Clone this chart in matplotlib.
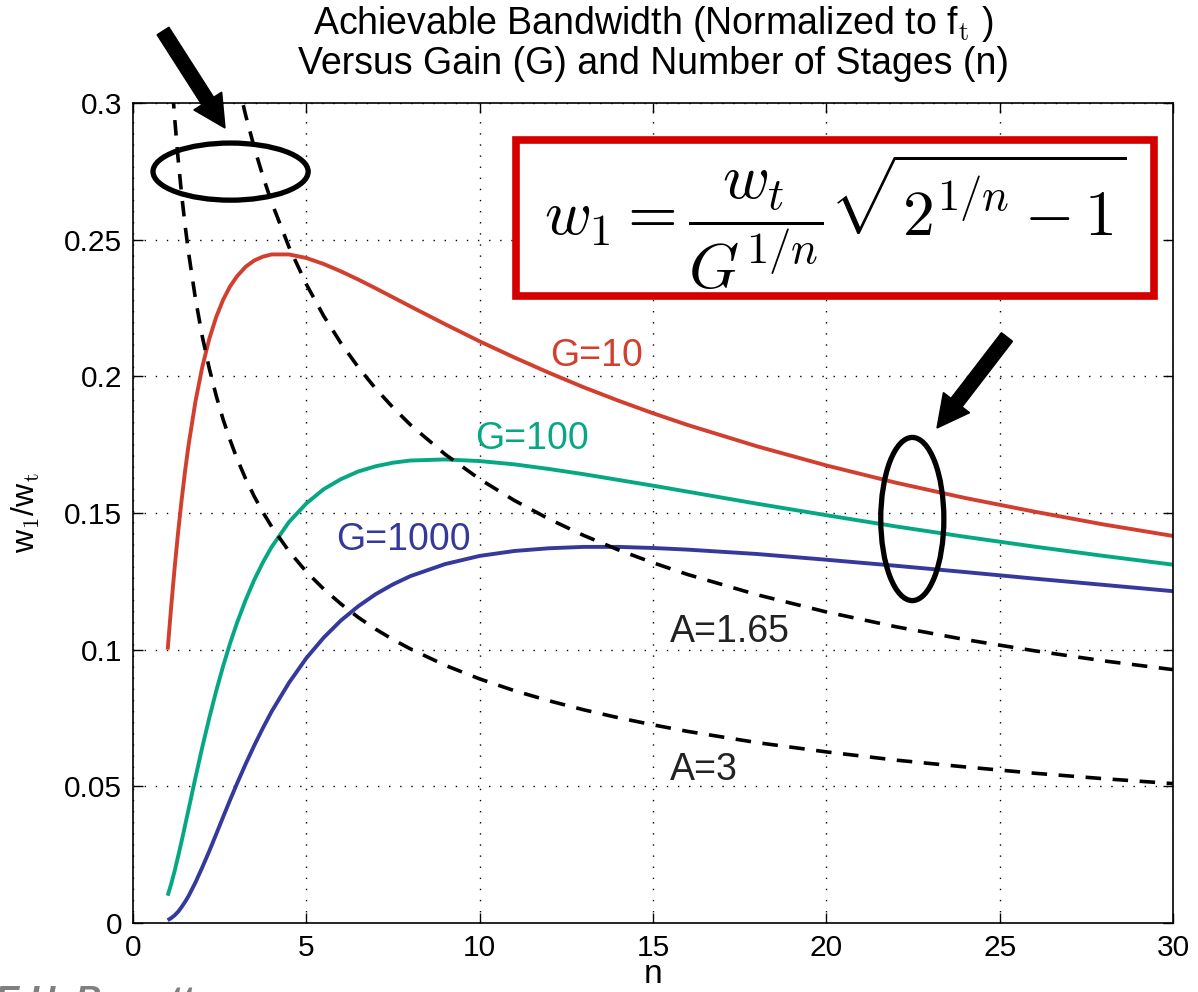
import matplotlib
matplotlib.use("Agg")
import matplotlib.pyplot as plt
from matplotlib.patches import Ellipse, FancyArrow, Rectangle
from matplotlib.transforms import IdentityTransform

plt.rcParams['font.family'] = ['Liberation Sans', 'DejaVu Sans']
plt.rcParams['mathtext.fontset'] = 'cm'

# ---- data ----
n_vals = [1, 1.1, 1.2, 1.3, 1.4, 1.5, 1.6, 1.8, 2, 2.2, 2.4, 2.6, 2.8, 3, 3.25, 3.5,
          3.75, 4, 4.5, 5, 5.5, 6, 6.5, 7, 7.5, 8, 9, 10, 11, 12, 13, 14, 15, 16,
          18, 20, 22, 24, 26, 28, 30]
g10 = [0.1000, 0.1155, 0.1298, 0.1428, 0.1545, 0.1651, 0.1746, 0.1907, 0.2035,
       0.2137, 0.2217, 0.2280, 0.2329, 0.2366, 0.2401, 0.2424, 0.2438, 0.2446,
       0.2446, 0.2433, 0.2411, 0.2384, 0.2354, 0.2322, 0.2289, 0.2256, 0.2191,
       0.2128, 0.2069, 0.2013, 0.1960, 0.1911, 0.1865, 0.1822, 0.1744, 0.1674,
       0.1611, 0.1555, 0.1505, 0.1458, 0.1416]
g100 = [0.0100, 0.0142, 0.0190, 0.0243, 0.0298, 0.0356, 0.0414, 0.0531, 0.0644,
        0.0750, 0.0849, 0.0940, 0.1023, 0.1098, 0.1182, 0.1256, 0.1320, 0.1376,
        0.1467, 0.1535, 0.1587, 0.1624, 0.1652, 0.1671, 0.1684, 0.1692, 0.1696,
        0.1690, 0.1678, 0.1661, 0.1642, 0.1621, 0.1600, 0.1578, 0.1534, 0.1492,
        0.1451, 0.1413, 0.1377, 0.1343, 0.1311]
g1000 = [0.0010, 0.0018, 0.0028, 0.0041, 0.0058, 0.0077, 0.0098, 0.0148, 0.0204,
         0.0263, 0.0325, 0.0388, 0.0450, 0.0510, 0.0582, 0.0650, 0.0714, 0.0774,
         0.0879, 0.0969, 0.1044, 0.1107, 0.1159, 0.1203, 0.1239, 0.1269, 0.1313,
         0.1343, 0.1361, 0.1371, 0.1376, 0.1376, 0.1372, 0.1366, 0.1350, 0.1329,
         0.1307, 0.1284, 0.1260, 0.1237, 0.1214]
a165 = [0.6061, 0.5678, 0.5359, 0.5086, 0.4851, 0.4645, 0.4463, 0.4154, 0.3901,
        0.3688, 0.3507, 0.3350, 0.3212, 0.3090, 0.2955, 0.2836, 0.2731, 0.2636,
        0.2473, 0.2337, 0.2221, 0.2121, 0.2033, 0.1955, 0.1886, 0.1823, 0.1715,
        0.1624, 0.1546, 0.1478, 0.1418, 0.1365, 0.1318, 0.1275, 0.1201, 0.1138,
        0.1084, 0.1037, 0.0996, 0.0959, 0.0927]
a3 = [0.3333, 0.3123, 0.2947, 0.2798, 0.2668, 0.2555, 0.2455, 0.2285, 0.2145,
      0.2029, 0.1929, 0.1842, 0.1767, 0.1699, 0.1625, 0.1560, 0.1502, 0.1450,
      0.1360, 0.1285, 0.1222, 0.1167, 0.1118, 0.1075, 0.1037, 0.1003, 0.0943,
      0.0893, 0.0850, 0.0813, 0.0780, 0.0751, 0.0725, 0.0701, 0.0660, 0.0626,
      0.0596, 0.0571, 0.0548, 0.0528, 0.0510]
xticks = [0, 5, 10, 15, 20, 25, 30]
yticks = [0, 0.05, 0.1, 0.15, 0.2, 0.25, 0.3]
ytick_labels = ['0', '0.05', '0.1', '0.15', '0.2', '0.25', '0.3']

RED = '#d23f2f'
GREEN = '#06a884'
BLUE = '#34399b'

fig = plt.figure(figsize=(11.98, 9.92), dpi=100)
ax = fig.add_axes([133/1198, 69/992, 1040/1198, 820/992])

ax.plot(n_vals, g10, color=RED, lw=2.8, solid_capstyle='butt', solid_joinstyle='round')
ax.plot(n_vals, g100, color=GREEN, lw=2.8, solid_capstyle='butt', solid_joinstyle='round')
ax.plot(n_vals, g1000, color=BLUE, lw=2.8, solid_capstyle='butt', solid_joinstyle='round')
ax.plot(n_vals, a165, color='black', lw=2.6, dashes=(4.3, 3.2))
ax.plot(n_vals, a3, color='black', lw=2.6, dashes=(4.3, 3.2))

ax.set_xlim(0, 30)
ax.set_ylim(0, 0.3)
ax.set_xticks(xticks)
ax.set_yticks(yticks)
ax.set_yticklabels(ytick_labels)
ax.tick_params(direction='in', length=7, width=1, labelsize=21.5, top=True, right=True, pad=8)
ax.grid(True, color='black', linestyle=(0, (1, 7)), linewidth=1.0)
for s in ax.spines.values():
    s.set_linewidth(1.2)

ax.set_xlabel('n', fontsize=24, labelpad=-2)
ax.set_ylabel('w$_\\mathrm{1}$/w$_\\mathrm{t}$', fontsize=23, labelpad=16)
ax.set_title('Achievable Bandwidth (Normalized to f$_\\mathrm{t}$ )\nVersus Gain (G) and Number of Stages (n)',
             fontsize=27, pad=21, linespacing=1.05)

ax.text(12.03, 0.2038, 'G=10', color=RED, fontsize=27)
ax.text(9.86, 0.1734, 'G=100', color=GREEN, fontsize=27)
ax.text(5.86, 0.1365, 'G=1000', color=BLUE, fontsize=27)
ax.text(15.49, 0.1028, 'A=1.65', color='#222222', fontsize=27)
ax.text(15.49, 0.0523, 'A=3', color='#222222', fontsize=27)

# formula box
ax.add_patch(Rectangle((0.3685, 0.765), 0.613, 0.19, transform=ax.transAxes,
                       facecolor='white', edgecolor='#d40000', lw=5.5, zorder=5))
ax.text(0.6755, 0.855, r'$w_1 = \dfrac{w_t}{G^{1/n}}\sqrt{2^{1/n}-1}$', transform=ax.transAxes,
        fontsize=46, ha='center', va='center', zorder=6)

# ellipses
ax.add_patch(Ellipse((2.815, 0.2749), 4.476, 0.0209, facecolor='none', edgecolor='black', lw=3.8, zorder=7))
ax.add_patch(Ellipse((22.48, 0.1478), 1.82, 0.0597, facecolor='none', edgecolor='black', lw=3.8, zorder=7))

# arrows (pixel coordinates)
H = 992
def arrow(x0, y0, x1, y1):
    fig.add_artist(FancyArrow(x0, H - y0, x1 - x0, -(y1 - y0), width=14, head_width=33,
                              head_length=32, length_includes_head=True,
                              color='black', transform=IdentityTransform()))
arrow(163, 31, 225, 128)
arrow(1007, 337, 937, 428)

fig.text(-0.004, -0.02, 'E.H. Barrett', fontsize=26, color='#7f7f7f', fontweight='bold',
         fontstyle='italic', ha='left', va='baseline')

fig.savefig('out.png', dpi=100)
